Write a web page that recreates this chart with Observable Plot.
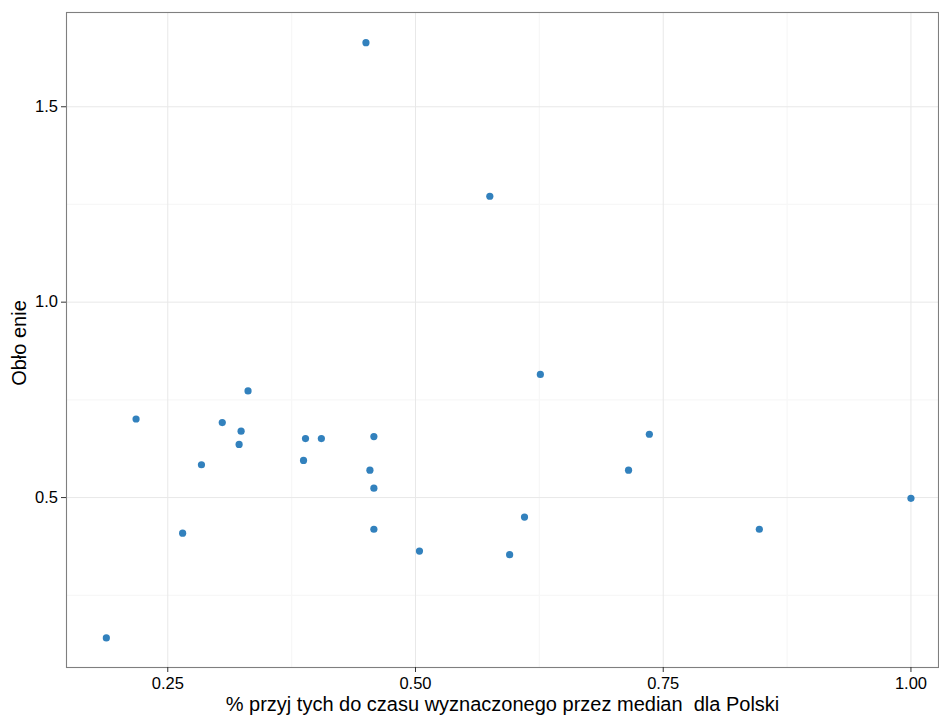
<!DOCTYPE html>
<html>
<head>
<meta charset="utf-8">
<script src="https://cdn.jsdelivr.net/npm/d3@7"></script>
<script src="https://cdn.jsdelivr.net/npm/@observablehq/plot@0.6"></script>
<style>
  html, body { margin: 0; padding: 0; background: #fff; }
  #chart svg { display: block; }
</style>
</head>
<body>
<div id="chart"></div>
<script>
const xValues = [0.188, 0.218, 0.265, 0.284, 0.305, 0.324, 0.322, 0.331, 0.389, 0.387,
                 0.405, 0.450, 0.454, 0.458, 0.458, 0.458, 0.504, 0.575, 0.595, 0.610,
                 0.626, 0.715, 0.736, 0.847, 1.000];
const yValues = [0.141, 0.701, 0.409, 0.584, 0.692, 0.670, 0.636, 0.773, 0.651, 0.595,
                 0.651, 1.664, 0.570, 0.656, 0.524, 0.419, 0.363, 1.271, 0.354, 0.450,
                 0.815, 0.570, 0.662, 0.419, 0.498];
const xTicks = [0.25, 0.50, 0.75, 1.00];
const xTickLabels = ["0.25", "0.50", "0.75", "1.00"];
const xMinor = [0.375, 0.625, 0.875];
const yTicks = [0.5, 1.0, 1.5];
const yTickLabels = ["0.5", "1.0", "1.5"];
const yMinor = [0.25, 0.75, 1.25];
const xTitle = "% przyj tych do czasu wyznaczonego przez median  dla Polski";
const yTitle = "Obło enie";

const data = xValues.map((x, i) => ({x, y: yValues[i]}));
const font = "'Liberation Sans', Arial, Helvetica, sans-serif";

const chart = Plot.plot({
  width: 939,
  height: 715,
  marginLeft: 66,
  marginRight: 1,
  marginTop: 12,
  marginBottom: 48,
  style: {fontFamily: font, background: "#fff", color: "#000"},
  x: {domain: [0.1478, 1.0278], label: null},
  y: {domain: [0.0652, 1.7412], label: null},
  marks: [
    Plot.gridX(xMinor, {stroke: "#f7f7f7", strokeOpacity: 1, strokeWidth: 1.2}),
    Plot.gridY(yMinor, {stroke: "#f7f7f7", strokeOpacity: 1, strokeWidth: 1.2}),
    Plot.gridX(xTicks, {stroke: "#e8e8e8", strokeOpacity: 1, strokeWidth: 1}),
    Plot.gridY(yTicks, {stroke: "#e8e8e8", strokeOpacity: 1, strokeWidth: 1}),
    Plot.dot(data, {x: "x", y: "y", r: 3.6, fill: "#3281bd", stroke: null}),
    Plot.frame({stroke: "#7f7f7f", strokeWidth: 1.1}),
    Plot.axisX(xTicks, {
      tickSize: 5, tickPadding: 4.5, fontSize: 16.5, stroke: "#333", fill: "#000",
      tickFormat: d => xTickLabels[xTicks.indexOf(d)], label: null
    }),
    Plot.axisY(yTicks, {
      tickSize: 5, tickPadding: 3.5, fontSize: 16.5, stroke: "#333", fill: "#000",
      tickFormat: d => yTickLabels[yTicks.indexOf(d)], label: null
    }),
    Plot.text([xTitle], {
      frameAnchor: "bottom", lineAnchor: "bottom", dy: 43.5,
      fontSize: 20, fill: "#000", text: d => d
    }),
    Plot.text([yTitle], {
      frameAnchor: "left", textAnchor: "middle", rotate: -90, dx: -40.5, dy: 3,
      fontSize: 20, fill: "#000", text: d => d, lineAnchor: "bottom"
    })
  ]
});
chart.querySelectorAll("text").forEach(t => t.setAttribute("xml:space", "preserve"));
chart.style.whiteSpace = "pre";
document.getElementById("chart").appendChild(chart);
</script>
</body>
</html>
